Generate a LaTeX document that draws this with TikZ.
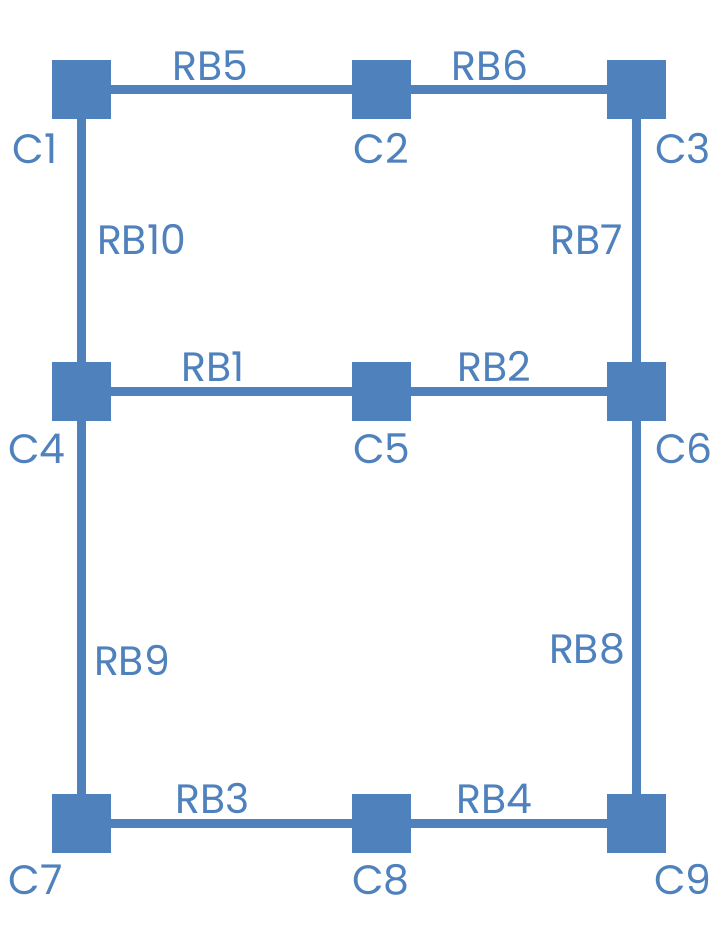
\documentclass[tikz,border=0pt]{standalone}
\usepackage{fontspec}
\setmainfont{Poppins}
\definecolor{cb}{HTML}{4F81BD}
\begin{document}
\begin{tikzpicture}[x=1pt,y=-1pt,
  sq/.style={fill=cb,draw=none,minimum size=58pt,inner sep=0pt},
  edge/.style={draw=cb,line width=9pt},
  lbl/.style={text=cb,font=\fontsize{41}{41}\selectfont,inner sep=0pt,text height=29pt,text depth=0pt,anchor=center}]
\useasboundingbox (0,0) rectangle (718,928);
\node[sq] (C1) at (81.5,89.5) {};
\node[sq] (C2) at (381.5,89.5) {};
\node[sq] (C3) at (636.5,89.5) {};
\node[sq] (C4) at (81.5,391.5) {};
\node[sq] (C5) at (381.5,391.5) {};
\node[sq] (C6) at (636.5,391.5) {};
\node[sq] (C7) at (81.5,823.5) {};
\node[sq] (C8) at (381.5,823.5) {};
\node[sq] (C9) at (636.5,823.5) {};
\draw[edge] (C1.center) -- (C2.center);
\draw[edge] (C2.center) -- (C3.center);
\draw[edge] (C1.center) -- (C4.center);
\draw[edge] (C3.center) -- (C6.center);
\draw[edge] (C4.center) -- (C5.center);
\draw[edge] (C5.center) -- (C6.center);
\draw[edge] (C4.center) -- (C7.center);
\draw[edge] (C6.center) -- (C9.center);
\draw[edge] (C7.center) -- (C8.center);
\draw[edge] (C8.center) -- (C9.center);
\foreach \n in {C1,C2,C3,C4,C5,C6,C7,C8,C9} \fill[cb] (\n.south west) rectangle (\n.north east);
\node[lbl] (lRB5) at (210,66) {RB5};
\node[lbl] (lRB6) at (490,66) {RB6};
\node[lbl] (lC1) at (35,149) {C1};
\node[lbl] (lC2) at (381.5,149) {C2};
\node[lbl] (lC3) at (683,149) {C3};
\node[lbl] (lRB10) at (141.5,240) {RB10};
\node[lbl] (lRB7) at (587,240) {RB7};
\node[lbl] (lRB1) at (213,367) {RB1};
\node[lbl] (lRB2) at (494,367) {RB2};
\node[lbl] (lC4) at (37,449) {C4};
\node[lbl] (lC5) at (382,449) {C5};
\node[lbl] (lC6) at (684,449) {C6};
\node[lbl] (lRB9) at (132,661) {RB9};
\node[lbl] (lRB8) at (587,648.5) {RB8};
\node[lbl] (lRB3) at (213,799) {RB3};
\node[lbl] (lRB4) at (494,799) {RB4};
\node[lbl] (lC7) at (36,880) {C7};
\node[lbl] (lC8) at (381,880) {C8};
\node[lbl] (lC9) at (683,880) {C9};
\end{tikzpicture}
\end{document}
